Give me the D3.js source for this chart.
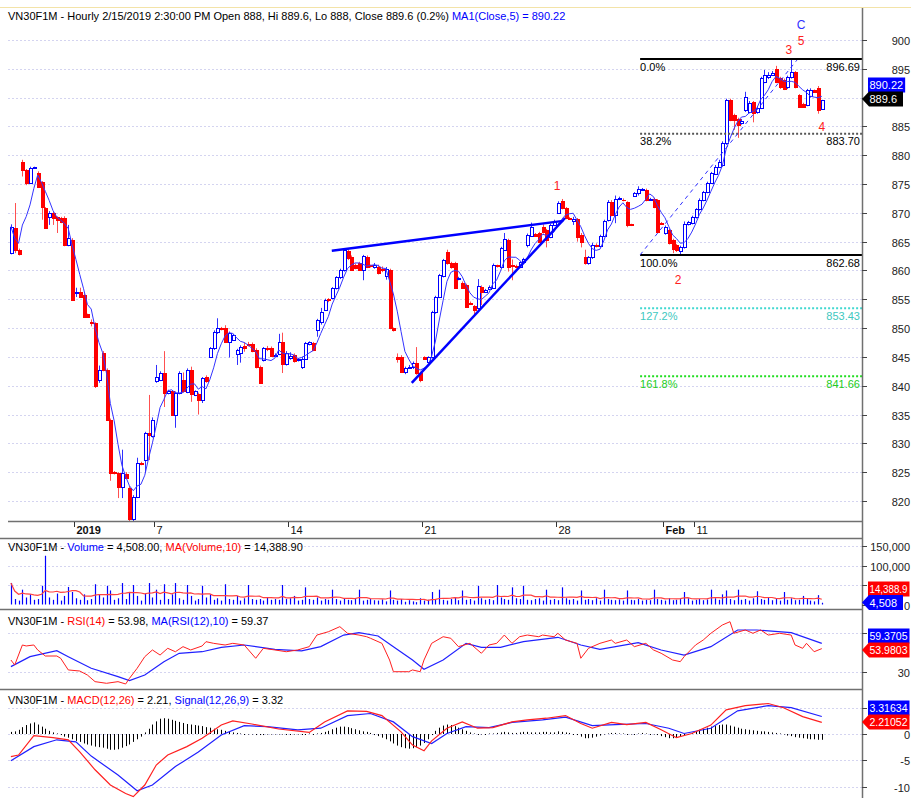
<!DOCTYPE html>
<html>
<head>
<meta charset="utf-8">
<title>VN30F1M hourly</title>
<script src="https://cdn.jsdelivr.net/npm/d3@7"></script>
<style>
  body { margin: 0; background: #fff; }
  svg { display: block; font-family: "Liberation Sans", Arial, sans-serif; }
</style>
</head>
<body>
<svg id="chart" width="911" height="798"></svg>
<script>
// ---- data (hourly bars, 7 per session) ----
var dayLabels = ["2019", "7", "14", "21", "28", "Feb", "11"];
var dayStart  = [17, 38, 73, 108, 143, 171, 179];
var dayBold   = [true, false, false, false, false, true, false];

var opens = [
 863.0,867.4,863.6,878.9,877.4,875.2,877.8,876.9,875.3,870.8,
 869.3,870.0,869.3,869.1,869.1,864.4,865.3,856.0,856.3,855.8,
 852.4,851.0,850.9,841.0,845.7,842.8,834.1,825.0,824.9,822.5,
 824.6,822.3,816.8,820.7,826.6,827.1,831.8,831.2,840.8,841.0,
 842.2,838.8,839.0,835.0,838.8,841.0,838.9,842.8,838.4,838.6,
 837.6,841.5,845.0,846.5,849.3,850.0,850.0,847.6,847.9,845.5,
 845.7,846.9,847.2,847.3,846.2,843.3,844.5,846.6,846.6,845.2,
 845.5,847.5,843.8,844.8,845.4,844.4,843.3,844.7,847.2,847.4,
 849.7,851.0,853.2,855.0,855.2,856.9,858.8,860.0,863.4,862.4,
 860.9,861.3,860.1,862.4,860.9,860.6,860.6,860.3,859.0,860.1,
 850.0,845.0,845.0,842.3,843.1,843.2,844.0,842.2,845.0,844.2,
 844.9,852.8,855.4,859.0,863.2,861.3,861.3,858.5,857.9,857.5,
 854.4,853.8,853.5,857.2,856.3,856.8,857.0,860.9,860.6,863.6,
 865.3,861.0,860.8,860.6,861.4,864.4,866.0,866.3,866.5,867.6,
 867.0,865.8,867.9,870.0,872.1,870.9,869.1,868.5,868.9,866.2,
 862.3,861.3,862.4,864.5,864.3,866.0,868.8,871.8,869.6,872.4,
 872.3,871.8,868.0,873.0,873.4,874.0,874.0,872.3,872.4,872.2,
 868.3,866.5,867.0,865.3,864.4,863.3,864.0,868.0,868.2,869.3,
 870.6,872.3,873.6,875.2,876.8,878.0,878.3,882.1,889.6,887.0,
 886.2,885.6,887.8,887.5,889.2,887.5,888.2,892.7,893.5,894.0,
 895.0,893.4,893.0,891.8,893.5,894.4,890.4,888.9,888.7,890.2,
 891.3,891.7,888.0];
var highs = [
 868.0,871.7,863.8,879.2,877.6,878.0,878.0,877.2,875.5,871.0,
 870.3,870.2,869.4,869.3,869.4,867.9,865.6,857.0,857.0,856.0,
 852.5,851.5,851.0,843.5,846.0,843.0,834.3,825.2,825.0,828.9,
 825.0,822.6,821.0,827.5,826.8,832.0,838.4,834.5,843.6,842.5,
 846.0,839.3,839.2,839.0,842.5,842.3,843.0,843.3,839.2,838.8,
 841.5,841.8,846.7,849.6,851.7,850.2,850.5,849.4,849.0,846.4,
 847.0,847.5,847.6,847.5,846.5,843.5,846.7,846.9,846.8,845.6,
 849.0,849.2,846.0,845.8,845.6,844.8,845.0,847.6,847.7,847.6,
 851.6,853.5,855.1,855.2,857.1,859.0,860.3,863.7,863.7,862.6,
 861.2,861.5,862.7,862.6,861.0,861.3,861.0,860.7,860.6,860.3,
 850.1,845.6,845.3,843.3,843.6,844.2,846.7,842.4,845.1,845.1,
 853.0,855.6,859.4,862.0,863.6,861.5,861.5,858.9,858.1,857.7,
 854.6,854.0,858.5,857.4,856.8,857.4,861.2,861.0,864.1,866.5,
 865.5,861.9,861.0,861.6,862.2,866.4,868.3,866.5,866.7,868.0,
 867.2,868.1,868.8,872.0,872.4,871.0,869.3,869.3,869.1,866.5,
 863.6,862.5,864.8,864.7,866.2,868.8,872.2,872.2,873.0,872.8,
 872.5,872.0,868.1,873.6,874.6,874.3,874.2,872.6,872.6,872.4,
 868.4,867.8,867.2,865.5,864.6,864.3,868.5,868.6,869.5,870.8,
 872.5,873.8,875.4,877.1,878.3,879.2,882.4,889.8,889.8,887.2,
 886.5,886.3,891.0,889.4,889.4,888.5,893.6,894.8,894.4,894.6,
 895.5,893.6,893.3,893.8,896.69,894.6,890.6,889.1,891.5,891.6,
 891.4,892.0,889.6];
var lows = [
 862.8,863.0,862.6,876.3,874.8,875.0,877.6,874.3,868.8,867.2,
 867.9,867.9,866.5,868.2,864.2,864.2,854.7,855.4,855.3,851.9,
 851.9,850.3,839.6,840.5,842.5,833.9,823.5,824.6,820.5,820.5,
 823.8,815.5,815.8,820.5,826.2,824.9,827.1,831.0,840.5,840.8,
 836.3,838.5,834.8,832.7,838.5,838.8,838.7,837.2,838.2,835.0,
 837.0,840.5,844.8,846.2,849.0,849.6,847.4,844.9,847.8,843.6,
 844.0,845.9,846.8,845.8,843.0,840.3,844.2,846.0,845.0,845.0,
 845.3,842.2,843.5,844.5,844.0,844.2,842.9,844.5,847.0,846.0,
 848.5,850.6,853.0,854.5,855.0,856.7,858.5,859.8,861.8,859.9,
 860.2,859.9,858.3,860.4,860.5,860.3,859.3,859.7,858.4,849.8,
 849.4,844.0,842.2,842.0,842.9,842.9,841.9,840.6,844.5,844.0,
 844.7,852.5,855.2,858.8,861.0,860.3,856.8,858.3,856.8,853.5,
 854.0,852.2,853.2,854.0,856.1,856.6,856.8,860.5,860.4,863.4,
 859.8,858.3,860.4,860.4,861.2,864.0,865.8,865.8,864.8,866.4,
 864.0,865.6,867.7,869.8,870.6,868.9,868.8,867.9,865.0,864.0,
 861.0,861.0,862.0,864.0,864.0,865.8,868.5,869.4,868.2,872.2,
 872.0,867.5,867.7,872.8,873.0,873.8,872.0,872.1,870.8,866.5,
 867.9,866.2,864.5,863.0,863.2,862.8,863.8,867.8,868.0,869.0,
 870.4,872.0,873.4,875.0,876.6,877.8,878.0,881.8,885.9,884.4,
 883.0,885.3,887.5,887.3,885.7,887.2,888.0,892.5,893.2,893.8,
 892.5,891.5,891.3,891.5,893.3,891.6,888.2,888.2,888.5,890.0,
 890.8,887.2,888.0];
var closes = [
 867.6,863.6,862.9,877.4,875.2,877.8,877.9,874.5,871.0,867.4,
 870.0,869.1,868.8,868.4,864.4,865.6,854.9,856.2,855.4,852.0,
 852.0,850.9,840.0,842.8,842.8,834.1,824.9,824.9,822.5,824.9,
 824.0,816.8,820.7,826.6,826.4,831.8,831.5,834.1,841.5,842.2,
 838.8,839.0,835.0,838.8,842.2,839.0,842.8,838.6,839.0,837.6,
 841.3,840.8,846.5,849.3,850.0,849.8,847.6,849.2,848.8,846.2,
 846.7,846.6,847.0,846.0,843.3,840.5,846.5,846.3,845.2,845.4,
 847.6,843.8,845.7,845.2,844.3,844.6,844.7,847.4,847.5,846.2,
 851.4,852.8,854.9,854.8,856.9,858.8,860.1,863.6,862.2,860.1,
 860.5,860.1,862.5,860.6,860.7,861.0,859.6,860.1,860.3,850.0,
 849.6,844.7,842.4,843.1,843.3,844.0,842.2,841.0,844.7,844.9,
 852.8,855.4,859.2,861.8,861.3,860.6,857.0,858.7,857.0,853.7,
 854.2,853.2,857.3,856.3,856.6,857.2,861.0,860.7,863.9,865.5,
 860.6,860.8,860.6,861.4,862.0,866.2,867.6,866.0,865.0,866.6,
 865.3,867.9,868.6,871.7,870.8,869.1,869.0,869.0,865.8,865.0,
 861.3,862.3,864.5,864.3,866.0,868.5,871.9,869.6,872.4,872.6,
 872.2,867.9,867.9,873.4,874.2,874.1,872.3,872.4,871.0,866.7,
 868.1,867.5,864.8,863.7,863.6,864.0,868.0,868.4,869.3,870.6,
 872.3,873.6,875.2,876.9,878.0,878.8,882.1,889.6,886.1,886.1,
 885.3,886.0,890.1,889.1,887.3,888.2,893.4,893.9,894.0,894.3,
 892.7,891.8,891.5,893.6,894.5,891.8,888.4,888.4,891.3,891.3,
 891.0,887.9,889.6];

// volume, thousands of contracts
var volK = [
 55,14,10,38,18,26,12,14,48,125,
 18,12,28,10,22,45,32,16,12,26,
 11,14,52,26,18,48,36,12,16,55,
 14,32,50,22,10,28,55,18,38,12,
 52,14,26,55,16,12,50,22,10,14,
 48,18,26,12,16,10,52,14,12,22,
 10,16,50,14,12,14,10,18,12,14,
 12,50,14,16,22,10,12,44,14,12,
 18,10,14,12,38,14,10,16,12,11,
 14,38,10,12,14,11,10,13,8,36,
 12,10,14,7,11,8,6,16,10,12,
 32,14,38,12,10,14,18,11,36,12,
 14,10,48,16,12,14,11,50,18,14,
 12,44,16,14,48,12,11,14,16,10,
 38,12,14,11,44,16,12,14,10,36,
 12,14,11,16,10,38,14,12,11,13,
 10,36,12,11,14,10,12,11,38,14,
 12,10,16,11,12,14,32,16,10,12,
 14,11,13,38,16,12,26,36,14,11,
 38,12,14,10,16,34,14,12,18,11,
 14,10,32,12,16,11,12,22,14,10,
 8,24,4.508];

// RSI(14) and its MA, sampled along the curves (bar index, value)
var rsiAt  = [0,1,3,4,6,7,9,12,13,15,18,20,22,25,28,30,31,33,35,37,39,41,43,45,47,50,51,53,56,58,61,64,66,69,72,75,78,80,83,86,88,91,93,94,97,99,100,104,105,107,108,110,113,115,117,120,123,125,127,129,131,133,135,138,139,142,143,145,148,149,151,154,157,158,161,163,166,168,170,173,175,176,179,181,183,186,188,189,192,194,196,198,201,204,205,207,208,210,212];
var rsiVal = [42.3,37.2,57.7,56.7,57.7,52.6,46.4,46.4,44.1,32.1,31,26.9,20.1,18.4,20.1,17.7,23.5,33.8,45.7,52.6,47.4,54.3,50.8,56,52.6,56.7,61.1,59.4,57.7,59.4,57.7,44.1,54.3,52.6,50.8,52.6,56,67.9,71.3,76.5,69.7,67.9,66.2,64.6,59.4,42.3,30.3,30.3,32.1,30.3,42.3,59.4,66.2,64.6,56,59.4,49.2,57.7,59.4,67.9,59.4,66.2,67.9,66.2,67.9,66.2,69.7,62.8,59.4,44.1,54.3,59.4,62.8,59.4,62.8,56,59.4,52.6,49.2,42.3,40.6,45.7,57.7,62.8,69.7,78.2,81.6,69.7,73.1,69.7,73.1,67.9,69.7,67.9,57.7,54.3,59.4,50.8,53.98];
var rsiMaAt  = [0,5,12,15,21,28,31,35,40,44,50,55,61,69,76,81,87,91,96,100,105,108,113,119,123,128,134,143,149,154,164,170,176,183,190,195,204,212];
var rsiMaVal = [35.5,45.7,51.9,45.7,33.8,25.2,21.1,26.9,40.6,49.2,50.8,55.3,57.7,53.3,51.6,56,67.9,70.3,66.9,56,42.3,32.8,42.3,59.4,55.3,55.3,61.1,65.6,57.7,53.3,60.1,52.6,47.4,56,73.1,73.1,70.3,59.37];

// MACD(12,26), signal(12,26,9) sampled along the curves; histogram per bar
var macdAt  = [0,2,6,11,15,18,22,26,30,32,35,38,41,46,50,55,58,63,70,78,82,88,93,97,102,105,108,110,114,118,122,126,131,135,140,145,149,152,157,161,166,170,174,178,183,187,192,198,202,207,212];
var macdVal = [-4.3,-4.0,-0.3,-0.7,-1.1,-3.4,-6.8,-9.7,-11.3,-11.9,-9.7,-5.9,-4.0,-2.4,-0.8,1.7,2.5,1.9,0.95,0.3,2.3,4.4,4.3,3.5,0.4,-2.1,-3.2,-1.3,1.1,2.3,1.1,1.2,2.3,2.7,3.0,3.5,2.0,1.1,2.2,1.8,2.2,0.8,-0.7,0.1,1.7,4.6,5.4,5.8,5.0,3.3,2.21];
var sigAt  = [0,6,12,17,21,28,33,37,43,49,55,61,67,75,81,88,94,100,105,110,114,119,125,131,139,145,152,158,166,172,176,183,190,198,204,212];
var sigVal = [-5.1,-2.4,-1.1,-1.5,-4.2,-7.8,-10.8,-9.7,-6.2,-3.4,-0.2,1.6,1.4,0.8,1.1,3.5,3.9,2.3,-0.5,-1.8,0.1,1.4,1.2,2.2,2.7,3.2,1.6,1.8,2.0,1.1,0.1,1.1,4.4,5.4,5.0,3.32];
var hist = [
 0.4,0.5,0.8,1.3,1.7,2.0,2.2,1.8,1.4,1.0,
 0.6,0.3,0.1,-0.2,-0.5,-0.7,-1.0,-1.3,-1.5,-1.8,
 -2.0,-2.2,-2.4,-2.5,-2.6,-2.8,-3.0,-3.0,-2.9,-2.6,
 -2.3,-2.0,-1.5,-1.0,-0.5,0.3,1.0,1.8,2.4,2.9,
 3.0,2.9,2.7,2.5,2.3,2.1,1.9,1.8,1.7,1.6,
 1.5,1.3,1.2,1.0,0.9,0.8,0.6,0.4,0.3,0.2,
 0.1,0,-0.1,-0.1,-0.2,-0.2,-0.2,-0.1,-0.1,-0.1,
 -0.1,-0.1,0,0,-0.1,-0.1,0,0,0.1,0,
 0.1,0.2,0.4,0.6,0.9,1.2,1.4,1.4,1.3,1.1,
 0.9,0.7,0.5,0.4,0.2,-0.2,-0.4,-0.7,-1.0,-1.4,
 -1.8,-2.2,-2.5,-2.7,-2.8,-2.7,-2.5,-2.2,-1.7,-1.0,
 -0.2,0.6,1.2,1.6,1.8,1.7,1.5,1.2,0.9,0.6,
 0.3,0.1,0,-0.1,0,0.1,0.1,0.2,0.3,0.4,
 0.3,0.2,0.2,0.3,0.4,0.4,0.3,0.3,0.3,0.4,
 0.4,0.3,0.3,0.5,0.4,0.3,0.2,0,-0.2,-0.5,
 -0.8,-0.8,-0.7,-0.5,-0.3,-0.1,0.1,0.2,0.2,0.1,
 0.1,0,-0.1,0,0.1,0.2,0.1,0,-0.1,-0.2,
 -0.4,-0.6,-0.8,-0.8,-0.7,-0.5,-0.3,0,0.2,0.5,
 0.8,1.0,1.2,1.4,1.5,1.7,1.8,1.8,1.6,1.4,
 1.2,1.0,0.9,0.8,0.7,0.6,0.5,0.5,0.4,0.3,
 0.2,0.1,-0.1,-0.3,-0.4,-0.6,-0.7,-0.8,-0.9,-1.0,
 -1.0,-1.1,-1.1];

// drawing tools on the price pane
var fibPct   = ["0.0%", "38.2%", "100.0%", "127.2%", "161.8%"];
var fibPrice = [896.69, 883.70, 862.68, 853.43, 841.66];
var fibStart = 164.5;
var trendUp  = [[83.9, 863.4], [144.4, 868.6]];
var trendLow = [[104.8, 840.5], [144.9, 869.1]];
var fibDiag  = [[164.5, 862.7], [205.5, 896.5]];
var waveText = ["1", "2", "3", "5", "C", "4"];
var waveAt   = [142.8, 174.4, 203.4, 206.6, 206.6, 212.0];
var wavePx   = [874.7, 858.4, 898.2, 899.8, 902.6, 884.9];

// right-axis labels that the value flags cover are not printed
var hiddenPrice = [890], hiddenVol = [50], hiddenRsi = [70], hiddenMacd = [5];

// ---- layout ----
var N = closes.length;
var svg = d3.select("#chart");
var AX = 862;
var x = d3.scaleLinear().domain([0, N - 1]).range([10.9, 10.9 + (N - 1) * 3.825]);
var yP = d3.scaleLinear().domain([862.68, 896.69]).range([255, 59]);
var yV = d3.scaleLinear().domain([0, 150]).range([604.5, 546]);
var yR = d3.scaleLinear().domain([30, 70]).range([672, 633]);
var yM = d3.scaleLinear().domain([-10, 5]).range([786.6, 707.7]);

svg.append("rect").attr("width", 911).attr("height", 798).attr("fill", "#fff");
svg.append("line").attr("x1", 0).attr("x2", 911).attr("y1", 7.5).attr("y2", 7.5)
  .attr("stroke", "#f3e3a8").attr("stroke-width", 1);

svg.append("defs").append("clipPath").attr("id", "clipMain")
  .append("rect").attr("x", 8).attr("y", 8).attr("width", AX - 8).attr("height", 513);

function grid(scale, vals) {
  svg.append("g").selectAll("line").data(vals).join("line")
    .attr("x1", 8).attr("x2", AX)
    .attr("y1", function(d) { return Math.round(scale(d)) + 0.5; })
    .attr("y2", function(d) { return Math.round(scale(d)) + 0.5; })
    .attr("stroke", "#d4d4f0").attr("stroke-dasharray", "2,2");
}
var priceTicks = d3.range(820, 901, 5);
grid(yP, priceTicks);
grid(yV, [50, 100, 150]);
grid(yR, [30, 70]);
grid(yM, [5, 0, -5, -10]);

// ---- price pane ----
var gC = svg.append("g").attr("clip-path", "url(#clipMain)");
d3.range(N).forEach(function(i) {
  var up = closes[i] >= opens[i];
  var R = Math.round(x(i));
  var top = Math.round(yP(Math.max(opens[i], closes[i])));
  var bot = Math.round(yP(Math.min(opens[i], closes[i])));
  gC.append("line").attr("x1", R + 0.5).attr("x2", R + 0.5)
    .attr("y1", yP(highs[i])).attr("y2", yP(lows[i]))
    .attr("stroke", up ? "#3030ff" : "#ff5050");
  if (up) {
    gC.append("rect").attr("x", R - 0.5).attr("y", top + 0.5)
      .attr("width", 3).attr("height", Math.max(1, bot - top))
      .attr("fill", "#fff").attr("stroke", "#0000ff");
  } else {
    gC.append("rect").attr("x", R - 1).attr("y", top)
      .attr("width", 4).attr("height", Math.max(1, bot - top + 1))
      .attr("fill", "#ff0000");
  }
});

var ma5 = closes.map(function(c, i) { return d3.mean(closes.slice(Math.max(0, i - 4), i + 1)); });
gC.append("path").datum(ma5)
  .attr("d", d3.line().x(function(d, i) { return x(i); }).y(function(d) { return yP(d); }))
  .attr("fill", "none").attr("stroke", "#3434ff").attr("stroke-width", 1);

// fibonacci levels
var fibStroke = ["#000", "#555", "#000", "#40d8d0", "#22dd22"];
var fibDash   = [null, "2,2", null, "2,2", "2,2"];
var fibTxt    = ["#000", "#000", "#000", "#40c8c0", "#22cc22"];
fibPrice.forEach(function(p, k) {
  var yy = yP(p);
  svg.append("line").attr("x1", x(fibStart)).attr("x2", AX).attr("y1", yy).attr("y2", yy)
    .attr("stroke", fibStroke[k]).attr("stroke-width", 2).attr("stroke-dasharray", fibDash[k]);
  svg.append("text").attr("x", x(fibStart)).attr("y", yy + 11.5).attr("font-size", 11)
    .attr("fill", fibTxt[k]).text(fibPct[k]);
  svg.append("text").attr("x", AX - 2).attr("y", yy + 11.5).attr("font-size", 11)
    .attr("text-anchor", "end").attr("fill", fibTxt[k]).text(p.toFixed(2));
});

var pline = d3.line().x(function(d) { return x(d[0]); }).y(function(d) { return yP(d[1]); });
[trendUp, trendLow].forEach(function(t) {
  svg.append("path").attr("d", pline(t)).attr("stroke", "#0000ff").attr("stroke-width", 2.5).attr("fill", "none");
});
svg.append("path").attr("d", pline(fibDiag)).attr("stroke", "#3030ff").attr("stroke-width", 1)
  .attr("stroke-dasharray", "4,4").attr("fill", "none");

waveText.forEach(function(t, k) {
  svg.append("text").attr("x", x(waveAt[k])).attr("y", yP(wavePx[k])).attr("dy", "0.35em")
    .attr("text-anchor", "middle").attr("font-size", 12)
    .attr("fill", t === "C" ? "#3030ff" : "#ff2020").text(t);
});

// ---- volume pane ----
svg.append("g").selectAll("line").data(volK).join("line")
  .attr("x1", function(d, i) { return Math.round(x(i)) + 0.5; })
  .attr("x2", function(d, i) { return Math.round(x(i)) + 0.5; })
  .attr("y1", yV(0)).attr("y2", function(d) { return yV(d); })
  .attr("stroke", "#0000ff").attr("stroke-width", 1.2);
var volMa = volK.map(function(v, i) { return d3.mean(volK.slice(Math.max(0, i - 9), i + 1)); });
svg.append("path").datum(volMa)
  .attr("d", d3.line().x(function(d, i) { return x(i); }).y(function(d) { return yV(d); }))
  .attr("fill", "none").attr("stroke", "#ff4040").attr("stroke-width", 1.2);

// ---- RSI pane ----
function sampled(at, vals, scale) {
  return d3.line().x(function(d, k) { return x(at[k]); }).y(function(d) { return scale(d); })(vals);
}
svg.append("path").attr("d", sampled(rsiMaAt, rsiMaVal, yR)).attr("fill", "none")
  .attr("stroke", "#2020ff").attr("stroke-width", 1.2);
svg.append("path").attr("d", sampled(rsiAt, rsiVal, yR)).attr("fill", "none")
  .attr("stroke", "#ff2020").attr("stroke-width", 1);

// ---- MACD pane ----
svg.append("g").selectAll("line").data(hist).join("line")
  .attr("x1", function(d, i) { return Math.round(x(i)) + 0.5; })
  .attr("x2", function(d, i) { return Math.round(x(i)) + 0.5; })
  .attr("y1", yM(0)).attr("y2", function(d) { return yM(d) + (Math.abs(d) < 0.05 ? 1 : 0); })
  .attr("stroke", "#000").attr("stroke-width", 1);
svg.append("path").attr("d", sampled(sigAt, sigVal, yM)).attr("fill", "none")
  .attr("stroke", "#2020ff").attr("stroke-width", 1.2);
svg.append("path").attr("d", sampled(macdAt, macdVal, yM)).attr("fill", "none")
  .attr("stroke", "#ff2020").attr("stroke-width", 1.2);

// ---- frame, separators, axes ----
[[521.5, 8], [538.5, 0], [609.5, 0], [689.5, 0]].forEach(function(s) {
  svg.append("line").attr("x1", s[1]).attr("x2", AX).attr("y1", s[0]).attr("y2", s[0])
    .attr("stroke", "#707070").attr("stroke-width", 1.5);
});
svg.append("line").attr("x1", AX + 0.5).attr("x2", AX + 0.5).attr("y1", 8).attr("y2", 798)
  .attr("stroke", "#707070").attr("stroke-width", 1.5);

function rightTicks(scale, vals, fmt, hidden) {
  vals.forEach(function(v) {
    var yy = Math.round(scale(v)) + 0.5;
    svg.append("line").attr("x1", AX).attr("x2", AX + 5).attr("y1", yy).attr("y2", yy).attr("stroke", "#444");
    if (hidden && hidden.indexOf(v) >= 0) return;
    svg.append("text").attr("x", 910).attr("y", yy + 4).attr("text-anchor", "end")
      .attr("font-size", 11).attr("fill", "#222").text(fmt(v));
  });
}
rightTicks(yP, priceTicks, String, hiddenPrice);
rightTicks(yV, [0, 50, 100, 150], function(v) { return d3.format(",")(v * 1000); }, hiddenVol);
rightTicks(yR, [30, 70], String, hiddenRsi);
rightTicks(yM, [5, 0, -5, -10], String, hiddenMacd);

dayStart.forEach(function(i, k) {
  var xx = Math.round(x(i - 0.5)) + 0.5;
  svg.append("line").attr("x1", xx).attr("x2", xx).attr("y1", 522).attr("y2", 527).attr("stroke", "#333");
  svg.append("text").attr("x", xx + 2).attr("y", 534).attr("font-size", 11)
    .attr("font-weight", dayBold[k] ? "bold" : "normal").attr("fill", "#111").text(dayLabels[k]);
});

// value flags on the right axis
function flag(yc, txt, fill, arrow) {
  var fs = txt.length > 7 ? 10 : 11;
  var t = svg.append("text").attr("x", 869.5).attr("y", yc + 4).attr("font-size", fs)
    .attr("fill", "#fff").text(txt);
  var w = Math.min(t.node().getComputedTextLength(), 38);
  if (txt.length > 6) t.attr("textLength", w).attr("lengthAdjust", "spacingAndGlyphs");
  var right = Math.max(869.5 + w + 2, 903);
  var shape;
  if (arrow) {
    shape = svg.insert("path", function() { return t.node(); })
      .attr("d", "M" + AX + "," + yc + "L" + (AX + 7) + "," + (yc - 7.5) + "H" + right + "V" + (yc + 7.5) + "H" + (AX + 7) + "Z");
  } else {
    shape = svg.insert("rect", function() { return t.node(); })
      .attr("x", 868).attr("y", yc - 7.5).attr("width", right - 868).attr("height", 15);
  }
  shape.attr("fill", fill);
}
flag(85, d3.format(".2f")(ma5[N - 1]), "#0000ff", false);
flag(99, String(closes[N - 1]), "#000000", true);
flag(589, "14,388.9", "#ff0000", false);
flag(602.5, d3.format(",")(volK[N - 1] * 1000), "#0000ff", true);
flag(636, "59.3705", "#0000ff", false);
flag(650, "53.9803", "#ff0000", true);
flag(708, "3.31634", "#0000ff", false);
flag(722, "2.21052", "#ff0000", true);

// pane titles
function title(yb, parts) {
  var t = svg.append("text").attr("x", 8).attr("y", yb).attr("font-size", 11);
  parts.forEach(function(p) { t.append("tspan").attr("fill", p[1]).text(p[0]); });
}
var last = N - 1;
var chg = (closes[last] - closes[last - 1]) / closes[last - 1] * 100;
title(20, [["VN30F1M - Hourly 2/15/2019 2:30:00 PM Open " + opens[last] + ", Hi " + highs[last] +
  ", Lo " + lows[last] + ", Close " + closes[last] + " (" + chg.toFixed(1) + "%) ", "#000"],
  ["MA1(Close,5) = " + ma5[last].toFixed(2), "#0000ff"]]);
title(551, [["VN30F1M - ", "#000"], ["Volume", "#0000ff"], [" = 4,508.00, ", "#000"],
  ["MA(Volume,10)", "#ff0000"], [" = 14,388.90", "#000"]]);
title(625, [["VN30F1M - ", "#000"], ["RSI(14)", "#ff0000"], [" = 53.98, ", "#000"],
  ["MA(RSI(12),10)", "#0000ff"], [" = 59.37", "#000"]]);
title(704, [["VN30F1M - ", "#000"], ["MACD(12,26)", "#ff0000"], [" = 2.21, ", "#000"],
  ["Signal(12,26,9)", "#0000ff"], [" = 3.32", "#000"]]);
</script>
</body>
</html>
